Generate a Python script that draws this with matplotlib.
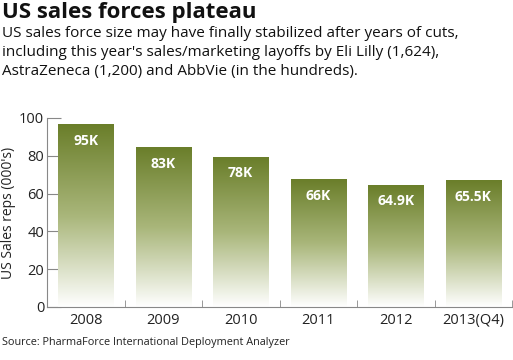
import matplotlib
matplotlib.use("Agg")
import matplotlib.pyplot as plt
import numpy as np
from matplotlib.colors import LinearSegmentedColormap

categories = ["2008", "2009", "2010", "2011", "2012", "2013(Q4)"]
values = [96.5, 84.3, 79.2, 67.2, 64.5, 66.8]
labels = ["95K", "83K", "78K", "66K", "64.9K", "65.5K"]
yticks = [0, 20, 40, 60, 80, 100]

plt.rcParams['font.family'] = ['Open Sans', 'DejaVu Sans']

fig = plt.figure(figsize=(5.13, 3.6), dpi=100)
ax = fig.add_axes([47/513, 53/360, 465/513, 189/360])

cmap = LinearSegmentedColormap.from_list("g", ["#ffffff", "#a9b67a", "#6a7e2a"])
grad = np.linspace(0, 1, 256).reshape(-1, 1)
w = 0.71
x = np.arange(len(categories))
for xi, v, lab in zip(x, values, labels):
    ax.imshow(grad, extent=[xi - w/2, xi + w/2, 0, v], origin="lower",
              cmap=cmap, aspect="auto", zorder=2)
    ax.text(xi, v - 4.8, lab, ha="center", va="top", color="white",
            fontsize=10, fontweight="bold", zorder=3)

ax.set_xlim(-0.5, len(categories) - 0.5)
ax.set_ylim(0, 100)
ax.set_xticks(x)
ax.set_xticklabels(categories, fontsize=10.5, color="#222222")
ax.set_xticks(np.arange(len(categories)) + 0.5, minor=True)
ax.tick_params(axis="x", which="major", length=0, pad=4)
ax.tick_params(axis="x", which="minor", direction="in", length=5, color="#888888")
ax.set_yticks(yticks)
ax.set_yticklabels([str(t) for t in yticks], fontsize=10.5, color="#222222")
ax.tick_params(axis="y", direction="in", length=10, color="#888888", pad=2)
for s in ["top", "right"]:
    ax.spines[s].set_visible(False)
for s in ["left", "bottom"]:
    ax.spines[s].set_color("#888888")
    ax.spines[s].set_linewidth(0.8)
ax.set_ylabel("US Sales reps (000's)", fontsize=10, color="#222222", labelpad=2)

fig.text(0.003, 1 - 2/360, "US sales forces plateau", fontsize=16, fontweight="bold",
         va="top", ha="left", color="#111111")
fig.text(0.003, 1 - 26/360,
         "US sales force size may have finally stabilized after years of cuts,\n"
         "including this year's sales/marketing layoffs by Eli Lilly (1,624),\n"
         "AstraZeneca (1,200) and AbbVie (in the hundreds).",
         fontsize=11, va="top", ha="left", color="#111111", linespacing=1.36)
fig.text(0.003, 1 - 343/360, "Source: PharmaForce International Deployment Analyzer",
         fontsize=7.8, va="center", ha="left", color="#222222")

fig.savefig("out.png", dpi=100)
